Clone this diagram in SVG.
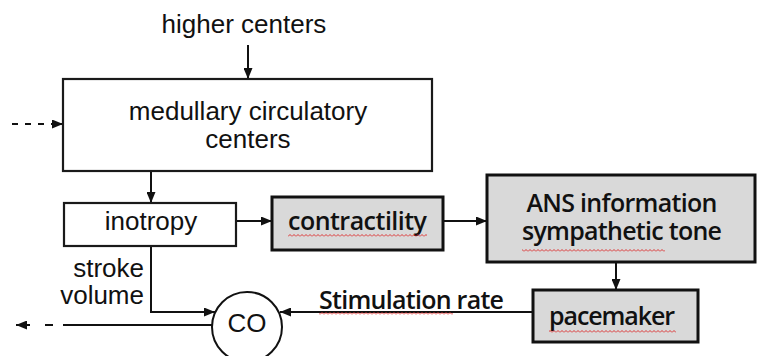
<svg xmlns="http://www.w3.org/2000/svg" width="758" height="356" viewBox="0 0 758 356">
  <style>
    .box { fill: #ffffff; stroke: #1a1a1a; stroke-width: 2.2; }
    .gbox { fill: #d9d9d9; stroke: #111111; stroke-width: 3; }
    .lbl { font-family: "Liberation Sans", Arial, sans-serif; font-size: 26px; fill: #111111; }
    .glbl { font-family: "Open Sans", "Noto Sans", sans-serif; font-weight: 600; font-size: 25px; fill: #111111; }
    .wire { fill: none; stroke: #111111; stroke-width: 2; }
    .arr { marker-end: url(#head); }
    .dash { stroke-dasharray: 6 7; }
    .spell { fill: url(#squiggle); }
  </style>
  <defs>
    <marker id="head" markerUnits="userSpaceOnUse" markerWidth="11" markerHeight="9" refX="11" refY="4.5" orient="auto">
      <path d="M0,0 L11,4.5 L0,9 z" fill="#111111"/>
    </marker>
    <!-- wavy red underline used for spell-check marks -->
    <pattern id="squiggle" width="4" height="3" patternUnits="userSpaceOnUse">
      <path d="M0,2.5 L2,0.5 L4,2.5" fill="none" stroke="#d22" stroke-width="0.9"/>
    </pattern>
  </defs>

  <rect width="758" height="356" fill="#ffffff"/>

  <!-- connectors -->
  <g id="connectors">
    <path class="wire arr" d="M248,45 V79"/>
    <path class="wire dash" d="M12,124 H52"/>
    <path class="wire arr" d="M51,124 H63"/>
    <path class="wire arr" d="M151,171 V203"/>
    <path class="wire arr" d="M236,221 H272"/>
    <path class="wire arr" d="M443,221 H487"/>
    <path class="wire arr" d="M616,262 V290"/>
    <path class="wire arr" d="M533,312 H280"/>
    <path class="wire arr" d="M151,246 V312 H215"/>
    <path class="wire" d="M212,325 H63"/>
    <path class="wire" d="M53,325 H45"/>
    <path class="wire arr" d="M30,325 H16"/>
  </g>

  <g id="higher-centers">
    <text class="lbl" x="244" y="33" text-anchor="middle">higher centers</text>
  </g>

  <g id="medullary">
    <rect class="box" x="63" y="79" width="369" height="92"/>
    <text class="lbl" x="248" y="120" text-anchor="middle">medullary circulatory</text>
    <text class="lbl" x="248" y="148" text-anchor="middle">centers</text>
  </g>

  <g id="inotropy">
    <rect class="box" x="64" y="203" width="172" height="43"/>
    <text class="lbl" x="151" y="230" text-anchor="middle">inotropy</text>
  </g>

  <g id="stroke-volume">
    <text class="lbl" x="144" y="277" text-anchor="end">stroke</text>
    <text class="lbl" x="144" y="304" text-anchor="end">volume</text>
  </g>

  <g id="co">
    <circle cx="247" cy="327" r="35" fill="#ffffff" stroke="#111111" stroke-width="2"/>
    <text class="lbl" x="247" y="332" text-anchor="middle">CO</text>
  </g>

  <g id="contractility">
    <rect class="gbox" x="272" y="197" width="171" height="53"/>
    <text class="glbl" x="357.5" y="230" text-anchor="middle" textLength="139" lengthAdjust="spacing">contractility</text>
    <rect class="spell" x="288" y="234" width="139" height="3"/>
  </g>

  <g id="ans">
    <rect class="gbox" x="487" y="175" width="268" height="87"/>
    <text class="glbl" x="622" y="212" text-anchor="middle" textLength="191" lengthAdjust="spacing">ANS information</text>
    <text class="glbl" x="622" y="240" text-anchor="middle" textLength="200" lengthAdjust="spacing">sympathetic tone</text>
    <rect class="spell" x="522" y="249" width="143" height="3"/>
  </g>

  <g id="pacemaker">
    <rect class="gbox" x="533" y="290" width="165" height="52"/>
    <text class="glbl" x="612" y="325" text-anchor="middle" textLength="126" lengthAdjust="spacing">pacemaker</text>
    <rect class="spell" x="549" y="330" width="127" height="3"/>
  </g>

  <g id="stimulation-rate">
    <text class="glbl" x="319" y="309" textLength="185" lengthAdjust="spacing">Stimulation rate</text>
    <rect class="spell" x="319" y="312" width="134" height="3"/>
  </g>
</svg>
